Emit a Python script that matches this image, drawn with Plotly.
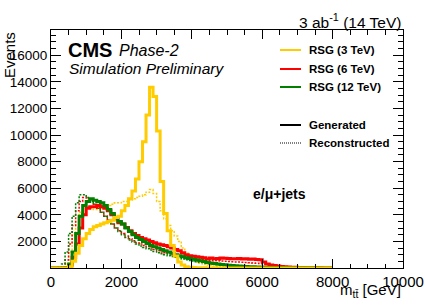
import plotly.graph_objects as go

# ---- data: bin lower edges (GeV) and counts per 100 GeV bin ----
BIN_EDGES = [i * 100 for i in range(81)]

Y_GEN = [0, 0, 0, 0, 0, 100, 500, 1100, 1700, 2200,
         2600, 2900, 3100, 3200, 3300, 3400, 3500, 3600, 3800, 3900,
         4300, 4700, 5200, 5800, 6700, 8000, 9500, 11500, 13600, 12900,
         10300, 6500, 4100, 2800, 1700, 900, 450, 220, 100, 50,
         30, 20, 15, 10, 8, 6, 5, 4, 3, 2,
         2, 1, 1, 1, 0, 0, 0, 0, 0, 0,
         0, 0, 0, 0, 0, 0, 0, 0, 0, 0,
         0, 0, 0, 0, 0, 0, 0, 0, 0, 0]
Y_REC = [0, 0, 0, 50, 300, 1200, 2500, 3500, 4200, 4500,
         4600, 4500, 4400, 4400, 4500, 4600, 4700, 4800, 4900, 4900,
         5000, 5000, 5100, 5200, 5300, 5400, 5500, 5700, 5900, 5600,
         5000, 4300, 3700, 3200, 2800, 2400, 2000, 1500, 1100, 800,
         600, 450, 350, 280, 220, 180, 150, 120, 100, 80,
         70, 60, 50, 40, 30, 25, 20, 15, 10, 8,
         6, 5, 4, 3, 2, 2, 1, 1, 0, 0,
         0, 0, 0, 0, 0, 0, 0, 0, 0, 0]
R_GEN = [0, 0, 0, 0, 30, 200, 800, 1800, 3000, 4000,
         4500, 4600, 4600, 4700, 4600, 4500, 4300, 4000, 3700, 3400,
         3300, 3050, 2800, 2600, 2450, 2300, 2200, 2100, 2000, 1900,
         1800, 1750, 1700, 1600, 1500, 1400, 1300, 1150, 1000, 920,
         880, 850, 800, 780, 680, 750, 700, 720, 760, 740,
         720, 700, 690, 720, 680, 700, 650, 680, 640, 620,
         450, 300, 220, 180, 150, 120, 100, 80, 60, 50,
         40, 30, 25, 20, 15, 12, 10, 8, 6, 5]
R_REC = [0, 0, 0, 100, 600, 1800, 3200, 4300, 5000, 5300,
         5200, 5000, 4800, 4500, 4200, 3900, 3600, 3300, 3000, 2800,
         2600, 2400, 2200, 2050, 1900, 1800, 1700, 1600, 1500, 1400,
         1300, 1200, 1150, 1100, 1000, 950, 900, 850, 800, 750,
         700, 680, 650, 620, 600, 580, 560, 540, 520, 500,
         480, 470, 460, 450, 440, 420, 400, 380, 360, 340,
         300, 260, 220, 180, 150, 120, 100, 80, 60, 50,
         40, 30, 25, 20, 15, 12, 10, 8, 6, 5]
G_GEN = [0, 0, 0, 0, 20, 300, 1200, 2600, 3900, 4700,
         5000, 5200, 5100, 5000, 4900, 4700, 4400, 4100, 3800, 3500,
         3300, 3000, 2750, 2500, 2300, 2150, 2000, 1850, 1700, 1600,
         1500, 1400, 1300, 1200, 1100, 1000, 920, 850, 780, 720,
         660, 600, 540, 480, 420, 380, 340, 300, 270, 240,
         210, 190, 170, 150, 130, 115, 100, 90, 80, 70,
         60, 55, 50, 45, 40, 35, 30, 28, 25, 22,
         20, 18, 16, 14, 12, 10, 9, 8, 7, 6]
G_REC = [0, 0, 50, 300, 1200, 2600, 3900, 4900, 5500, 5500,
         5300, 5100, 4800, 4500, 4200, 3900, 3600, 3300, 3000, 2750,
         2500, 2300, 2100, 1950, 1800, 1650, 1550, 1450, 1350, 1250,
         1150, 1070, 1000, 930, 860, 800, 740, 680, 620, 570,
         520, 470, 430, 390, 350, 320, 290, 260, 230, 210,
         190, 170, 150, 135, 120, 105, 95, 85, 75, 65,
         55, 50, 45, 40, 35, 30, 25, 22, 20, 18,
         16, 14, 12, 10, 8, 7, 6, 5, 4, 3]

LEGEND_LABELS = ["RSG (3 TeV)", "RSG (6 TeV)", "RSG (12 TeV)"]
X_TICKS = [0, 2000, 4000, 6000, 8000, 10000]
X_TICK_LABELS = ["0", "2000", "4000", "6000", "8000", "10000"]
Y_TICKS = [2000, 4000, 6000, 8000, 10000, 12000, 14000, 16000]
Y_TICK_LABELS = ["2000", "4000", "6000", "8000", "10000", "12000", "14000", "16000"]

YELLOW = "#FFCC00"
RED = "#FF0000"
GREEN = "#007F00"
FONT = "Liberation Sans"


def hist_xy(values):
    xs = list(BIN_EDGES[:len(values)]) + [BIN_EDGES[len(values)]]
    ys = list(values) + [values[-1]]
    return xs, ys


fig = go.Figure()
series = [
    (Y_REC, YELLOW, False), (R_REC, RED, False), (G_REC, GREEN, False),
    (R_GEN, RED, True), (G_GEN, GREEN, True), (Y_GEN, YELLOW, True),
]
for vals, col, gen in series:
    xs, ys = hist_xy(vals)
    fig.add_trace(go.Scatter(
        x=xs, y=ys, mode="lines", line_shape="hv", showlegend=False,
        line=dict(color=col, width=3 if gen else 1.5,
                  dash="solid" if gen else "2px,1.5px"),
        hoverinfo="skip"))

W, H = 425, 305
L, R, T, B = 51, 22, 30, 37
pw, ph = W - L - R, H - T - B


def px(x):
    return (x - L) / pw


def py(y):
    return (H - B - y) / ph


fig.update_layout(
    width=W, height=H, margin=dict(l=L, r=R, t=T, b=B, autoexpand=False),
    paper_bgcolor="white", plot_bgcolor="white",
    font=dict(family=FONT, color="black"),
    xaxis=dict(range=[0, 10000], showgrid=False, zeroline=False, automargin=False,
               showline=True, linecolor="black", linewidth=1, mirror="allticks",
               ticks="inside", ticklen=9, tickcolor="black",
               tickvals=X_TICKS, ticktext=X_TICK_LABELS,
               tickfont=dict(size=15, family=FONT),
               minor=dict(dtick=500, tick0=0, ticks="inside", ticklen=4.5,
                          tickcolor="black", showgrid=False)),
    yaxis=dict(range=[0, 17900], showgrid=False, zeroline=False, automargin=False,
               showline=True, linecolor="black", linewidth=1, mirror="allticks",
               ticks="inside", ticklen=10, tickcolor="black",
               tickvals=Y_TICKS, ticktext=Y_TICK_LABELS,
               tickfont=dict(size=13.5, family=FONT),
               minor=dict(dtick=500, tick0=0, ticks="inside", ticklen=5,
                          tickcolor="black", showgrid=False)),
)

ann = []
ann.append(dict(text="3 ab<sup>-1</sup> (14 TeV)", x=1.0, y=py(21),
                xanchor="right", yanchor="middle", font=dict(size=15.5)))
ann.append(dict(text="<b>CMS</b>", x=px(66), y=py(50), xanchor="left",
                yanchor="middle", font=dict(size=20)))
ann.append(dict(text="<i>Phase-2</i>", x=px(117), y=py(50), xanchor="left",
                yanchor="middle", font=dict(size=16)))
ann.append(dict(text="<i>Simulation Preliminary</i>", x=px(67), y=py(68),
                xanchor="left", yanchor="middle", font=dict(size=15.5)))
ann.append(dict(text="<b>e/μ+jets</b>", x=px(251), y=py(194), xanchor="left",
                yanchor="middle", font=dict(size=14)))
ann.append(dict(text="Events", x=px(9), y=1.0, xanchor="center",
                yanchor="top", textangle=-90, font=dict(size=15)))
ann.append(dict(text="m<sub>tt̄</sub> [GeV]", x=1.0, y=py(279),
                xanchor="right", yanchor="top", font=dict(size=15)))

leg_rows = [(LEGEND_LABELS[0], YELLOW, "solid", 2, 50),
            (LEGEND_LABELS[1], RED, "solid", 2, 69),
            (LEGEND_LABELS[2], GREEN, "solid", 2, 87),
            ("Generated", "black", "solid", 2, 125),
            ("Reconstructed", "black", "1px,1px", 1, 143)]
shapes = []
for label, col, dash, w, yy in leg_rows:
    ann.append(dict(text="<b>%s</b>" % label, x=px(307), y=py(yy),
                    xanchor="left", yanchor="middle", font=dict(size=11.5)))
    shapes.append(dict(type="line", xref="paper", yref="paper",
                       x0=px(280), x1=px(301), y0=py(yy), y1=py(yy),
                       line=dict(color=col, width=w, dash=dash)))

for a in ann:
    a.update(xref="paper", yref="paper", showarrow=False)
fig.update_layout(annotations=ann, shapes=shapes)

fig.write_html("out.html",
               config={"displayModeBar": False, "staticPlot": True},
               post_script="document.body.style.margin='0';"
                           "document.body.style.overflow='hidden';")
